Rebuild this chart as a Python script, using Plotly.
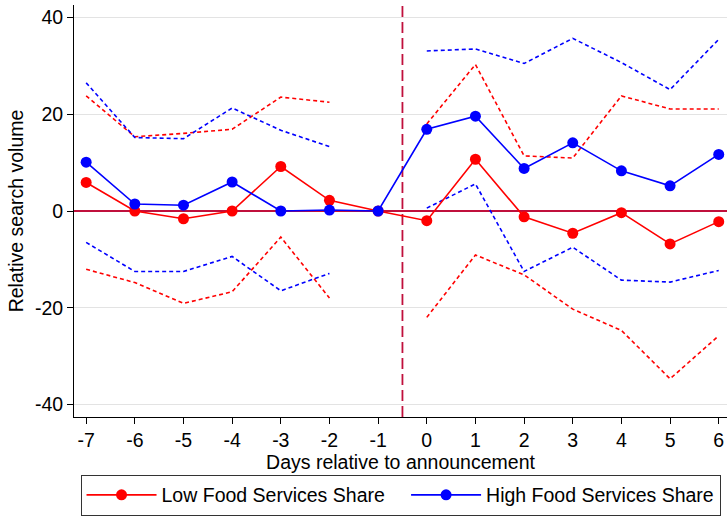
import plotly.graph_objects as go

days = [-7, -6, -5, -4, -3, -2, -1, 0, 1, 2, 3, 4, 5, 6]

low_est = [5.9, 0.0, -1.6, 0.0, 9.2, 2.2, 0.0, -2.0, 10.7, -1.2, -4.6, -0.35, -6.8, -2.2]
low_upper = [23.8, 15.35, 16.05, 16.9, 23.55, 22.5, None, 18.0, 30.3, 11.4, 10.95, 23.8, 21.1, 21.1]
low_lower = [-12.05, -14.8, -19.1, -16.7, -5.4, -18.0, None, -22.0, -9.1, -13.2, -20.3, -24.7, -34.7, -25.8]

high_est = [10.1, 1.45, 1.2, 6.0, 0.0, 0.2, 0.0, 16.9, 19.6, 8.8, 14.1, 8.3, 5.2, 11.7]
high_upper = [26.5, 15.2, 14.95, 21.3, 16.7, 13.3, None, 33.1, 33.5, 30.5, 35.7, 30.7, 25.1, 35.5]
high_lower = [-6.5, -12.5, -12.5, -9.4, -16.5, -12.9, None, 0.6, 5.6, -12.5, -7.5, -14.3, -14.7, -12.3]

x_ticks = [-7, -6, -5, -4, -3, -2, -1, 0, 1, 2, 3, 4, 5, 6]
x_labels = ["-7", "-6", "-5", "-4", "-3", "-2", "-1", "0", "1", "2", "3", "4", "5", "6"]
y_ticks = [-40, -20, 0, 20, 40]
y_labels = ["-40", "-20", "0", "20", "40"]
series_names = ["Low Food Services Share\u00a0\u00a0\u00a0", "High Food Services Share"]

RED = "#FF0000"
BLUE = "#0000FF"
CRIMSON = "#C0103C"
FONT = "Arial, Liberation Sans, sans-serif"
FS = 19.5

fig = go.Figure()

for vals, col in [(low_upper, RED), (low_lower, RED), (high_upper, BLUE), (high_lower, BLUE)]:
    fig.add_trace(go.Scatter(x=days, y=vals, mode="lines", showlegend=False,
                             line=dict(color=col, width=1.6, dash="4px,3px"),
                             hoverinfo="skip"))

fig.add_trace(go.Scatter(x=days, y=low_est, mode="lines+markers", name=series_names[0],
                         line=dict(color=RED, width=1.6), marker=dict(color=RED, size=11)))
fig.add_trace(go.Scatter(x=days, y=high_est, mode="lines+markers", name=series_names[1],
                         line=dict(color=BLUE, width=1.6), marker=dict(color=BLUE, size=11)))

fig.add_shape(type="line", xref="x", yref="paper", x0=-0.5, x1=-0.5, y0=0, y1=1,
              line=dict(color=CRIMSON, width=1.8, dash="11px,5px"), layer="below")

fig.update_layout(
    width=727, height=517,
    margin=dict(l=74, r=0, t=5, b=100, autoexpand=False),
    paper_bgcolor="white", plot_bgcolor="white",
    font=dict(family=FONT, size=FS, color="black"),
    showlegend=True,
    legend=dict(orientation="h", x=0.01, xanchor="left", y=-0.14, yanchor="top",
                bordercolor="#333333", borderwidth=1, font=dict(size=FS, family=FONT),
                itemwidth=70),
    xaxis=dict(range=[-7.25, 6.17], tickmode="array", tickvals=x_ticks,
               ticktext=x_labels, showgrid=False, zeroline=False,
               showline=True, linecolor="black", linewidth=1, ticks="outside",
               ticklen=6, tickcolor="black",
               title=dict(text="Days relative to announcement", font=dict(size=FS), standoff=0)),
    yaxis=dict(range=[-42.6, 42.6], tickmode="array", tickvals=y_ticks, ticktext=y_labels,
               showgrid=True, gridcolor="#E3E3E3", gridwidth=1,
               zeroline=True, zerolinecolor=CRIMSON, zerolinewidth=1.5,
               showline=True, linecolor="black", linewidth=1, ticks="outside",
               ticklen=6, tickcolor="black",
               title=dict(text="Relative search volume", font=dict(size=FS), standoff=6)),
)

fig.write_html("out.html")
